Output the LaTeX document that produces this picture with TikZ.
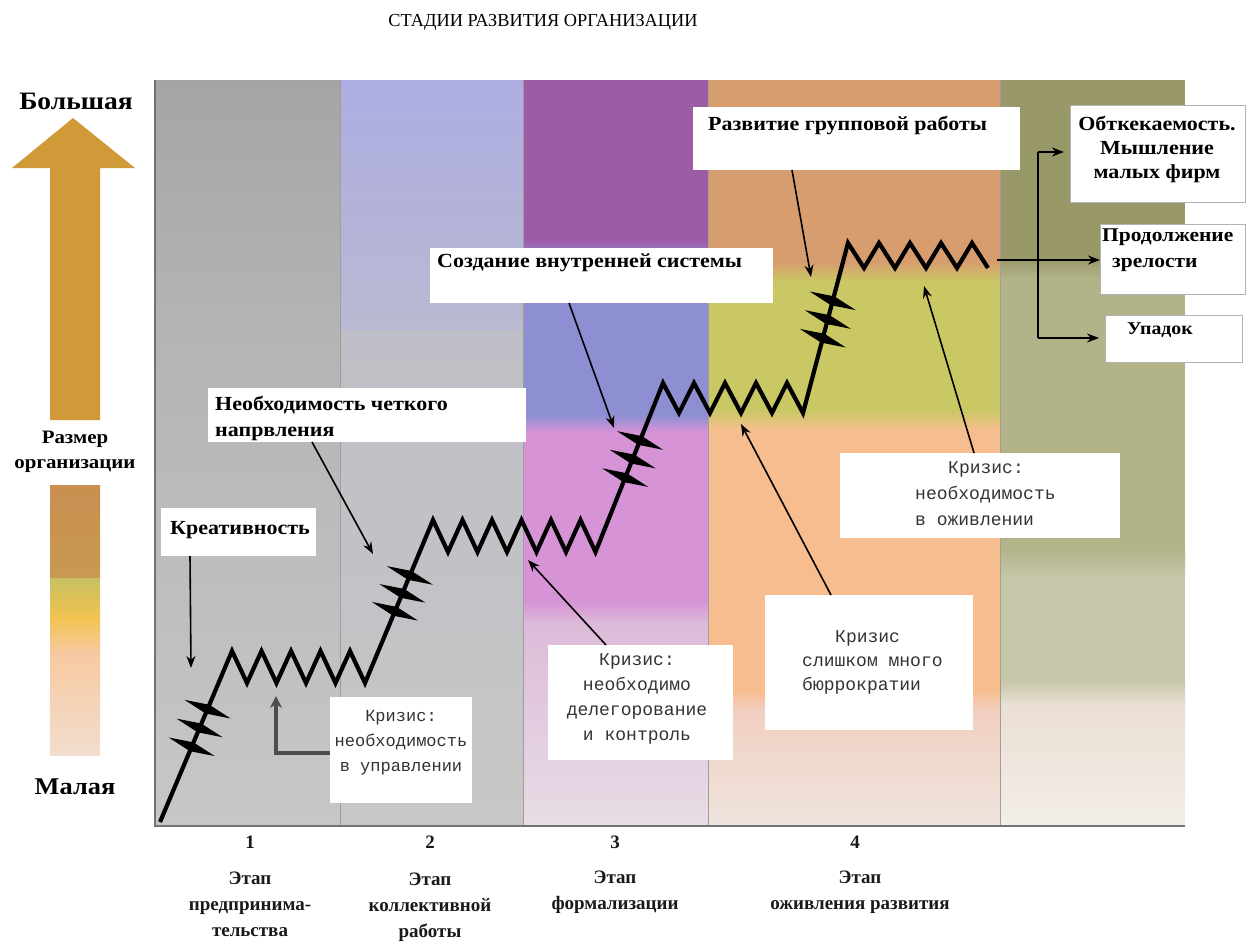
\documentclass[tikz,border=0pt]{standalone}
\usepackage{fontspec}
\setmainfont{Liberation Serif}
\newfontfamily\lbl[FakeStretch=1.1]{Liberation Serif}
\newfontfamily\mono{Liberation Mono}
\usetikzlibrary{arrows.meta,calc}
\definecolor{gA}{HTML}{A5A5A5}
\definecolor{gB}{HTML}{B4B4B4}
\definecolor{gC}{HTML}{C7C7C7}
\definecolor{lavA}{HTML}{ADADE2}
\definecolor{lavB}{HTML}{B9B9D2}
\definecolor{grA}{HTML}{BEBEC6}
\definecolor{purA}{HTML}{9E5CA6}
\definecolor{bvA}{HTML}{8E8ED2}
\definecolor{pkA}{HTML}{D693D6}
\definecolor{pkB}{HTML}{DDBBD9}
\definecolor{pkC}{HTML}{E7DDE5}
\definecolor{orA}{HTML}{D79D6E}
\definecolor{ygA}{HTML}{C9C865}
\definecolor{peA}{HTML}{F7BD8E}
\definecolor{peB}{HTML}{F1CFC0}
\definecolor{peC}{HTML}{EFE4DE}
\definecolor{olA}{HTML}{999868}
\definecolor{olB}{HTML}{B3B38A}
\definecolor{olC}{HTML}{C6C6A8}
\definecolor{olD}{HTML}{EADFD4}
\definecolor{olE}{HTML}{F3EEE8}
\definecolor{goldA}{HTML}{CF9A37}
\definecolor{goldB}{HTML}{C98F50}
\definecolor{grnA}{HTML}{C7C062}
\definecolor{yelA}{HTML}{F2C350}
\definecolor{pchA}{HTML}{F8C9A0}
\definecolor{pchB}{HTML}{F2DDCE}
\definecolor{elbow}{HTML}{4D4D4D}
\tikzset{
  box/.style={fill=white, draw=none, inner sep=0pt, anchor=north west},
  rbox/.style={box, draw=black!30, line width=1pt},
  lab/.style={font=\lbl\bfseries\fontsize{20}{26}\selectfont, inner sep=0pt, text=black},
  blab/.style={font=\bfseries\fontsize{19}{26}\selectfont, inner sep=0pt, align=center, text=black!90},
  crisis/.style={font=\mono\fontsize{18}{25}\selectfont, inner sep=0pt, text=black!80},
  arr/.style={-{Stealth[length=12pt,width=9pt]}, line width=1.6pt},
  plain/.style={line width=1.6pt},
  zig/.style={line width=4.2pt, line join=miter, miter limit=20},
  sep/.style={draw=black!38, line width=1pt},
}
\newcommand\hmark[1]{\fill ($(#1)+(-23,-9.3)$) -- ($(#1)+(1.8,-4.4)$) -- ($(#1)+(23,9.3)$) -- ($(#1)+(-1.8,4.4)$) -- cycle;}
\begin{document}
\begin{tikzpicture}[x=1pt,y=-1pt]
\useasboundingbox (0,0) rectangle (1249,942);
\fill[white] (0,0) rectangle (1249,942);

% ---- column backgrounds
\shade[top color=gA, bottom color=gB] (155,80) rectangle (340,330);
\shade[top color=gB, bottom color=gC] (155,330) rectangle (340,825);
\shade[top color=lavA, bottom color=lavB] (340,80) rectangle (523,330);
\shade[top color=grA, bottom color=gC] (340,330) rectangle (523,825);
\fill[purA] (523,80) rectangle (708,240);
\shade[top color=purA, bottom color=bvA] (523,240) rectangle (708,258);
\fill[bvA] (523,258) rectangle (708,415);
\shade[top color=bvA, bottom color=pkA] (523,415) rectangle (708,432);
\fill[pkA] (523,432) rectangle (708,600);
\shade[top color=pkA, bottom color=pkB] (523,600) rectangle (708,625);
\shade[top color=pkB, bottom color=pkC] (523,625) rectangle (708,825);
\fill[orA] (708,80) rectangle (1000,262);
\shade[top color=orA, bottom color=ygA] (708,262) rectangle (1000,282);
\fill[ygA] (708,282) rectangle (1000,410);
\shade[top color=ygA, bottom color=peA] (708,410) rectangle (1000,430);
\fill[peA] (708,430) rectangle (1000,690);
\shade[top color=peA, bottom color=peB] (708,690) rectangle (1000,710);
\shade[top color=peB, bottom color=peC] (708,710) rectangle (1000,825);
\fill[olA] (1000,80) rectangle (1185,258);
\shade[top color=olA, bottom color=olB] (1000,258) rectangle (1185,278);
\fill[olB] (1000,278) rectangle (1185,550);
\shade[top color=olB, bottom color=olC] (1000,550) rectangle (1185,575);
\fill[olC] (1000,575) rectangle (1185,680);
\shade[top color=olC, bottom color=olD] (1000,680) rectangle (1185,705);
\shade[top color=olD, bottom color=olE] (1000,705) rectangle (1185,825);

% separators and axes
\draw[sep] (340,80) -- (340,825);
\draw[sep] (523,80) -- (523,825);
\draw[sep] (708,80) -- (708,825);
\draw[sep] (1000,80) -- (1000,825);
\draw[draw=black!55, line width=2pt] (155,80) -- (155,826) -- (1185,826);

% ---- left size arrow
\fill[goldA] (50,168) -- (12,168) -- (73,118) -- (135,168) -- (100,168) -- (100,420) -- (50,420) -- cycle;
\shade[top color=goldB, bottom color=goldB!80!grnA] (50,485) rectangle (100,578);
\shade[top color=grnA, bottom color=yelA] (50,578) rectangle (100,618);
\shade[top color=yelA, bottom color=pchA] (50,618) rectangle (100,652);
\shade[top color=pchA, bottom color=pchB] (50,652) rectangle (100,755);
\node[font=\lbl\bfseries\fontsize{25}{26}\selectfont, inner sep=0pt] (big) at (76,101) {Большая};
\node[font=\lbl\bfseries\fontsize{19}{25}\selectfont, inner sep=0pt, align=center] (size) at (75,452) {Размер\\организации};
\node[font=\lbl\bfseries\fontsize{24}{24}\selectfont, inner sep=0pt] (small) at (75,787) {Малая};

% ---- title
\node[font=\fontsize{18.3}{20}\selectfont, inner sep=0pt, text=black] (title) at (543,22) {СТАДИИ РАЗВИТИЯ ОРГАНИЗАЦИИ};

% ---- zigzag growth line
\coordinate (d1a) at (160,822);
\coordinate (d1b) at (232,651);
\coordinate (d2a) at (365,683);
\coordinate (d2b) at (433,520);
\coordinate (d3a) at (595.5,552);
\coordinate (d3b) at (663,383);
\coordinate (d4a) at (803,413);
\coordinate (d4b) at (848,243);
\coordinate (zend) at (988,268);
\draw[zig] (d1a) -- (d1b)
  -- (247,683) -- (261.5,651) -- (276.5,683) -- (291,651) -- (306,683) -- (320.5,651) -- (335.5,683) -- (350,651)
  -- (d2a) -- (d2b)
  -- (448,552) -- (462.5,520) -- (477.5,552) -- (492,520) -- (507,552) -- (521.5,520) -- (536.5,552) -- (551,520) -- (566,552) -- (580.5,520)
  -- (d3a) -- (d3b)
  -- (679,413) -- (694,383) -- (710,413) -- (725,383) -- (741,413) -- (756,383) -- (772,413) -- (787,383)
  -- (d4a) -- (d4b)
  -- (864,268) -- (879,243) -- (895,268) -- (910,243) -- (926,268) -- (941,243) -- (957,268) -- (972,243)
  -- (zend);
\foreach \d in {1,2,3,4}{
  \coordinate (h\d a) at ($(d\d a)!0.44!(d\d b)$);
  \coordinate (h\d b) at ($(d\d a)!0.55!(d\d b)$);
  \coordinate (h\d c) at ($(d\d a)!0.66!(d\d b)$);
  \hmark{h\d a}\hmark{h\d b}\hmark{h\d c}
}

% ---- label boxes
\node[box, minimum width=155pt, minimum height=48pt] (kre) at (161,508) {};
\node[lab, anchor=west] (kret) at (170,530) {Креативность};
\node[box, minimum width=318pt, minimum height=54pt] (neo) at (208,388) {};
\node[lab, anchor=west, align=left] (neot) at (215,418) {Необходимость четкого\\напрвления};
\node[box, minimum width=343pt, minimum height=55pt] (soz) at (430,248) {};
\node[lab, anchor=west] (sozt) at (437,263) {Создание внутренней системы};
\node[box, minimum width=327pt, minimum height=63pt] (grp) at (693,107) {};
\node[lab, anchor=west] (grpt) at (708,125) {Развитие групповой работы};

% crisis boxes
\node[box, minimum width=142pt, minimum height=106pt] (kr1) at (330,697) {};
\node[crisis, align=center, font=\mono\fontsize{17}{25}\selectfont] (kr1t) at (401,743) {Кризис:\\необходимость\\в управлении};
\node[box, minimum width=185pt, minimum height=115pt] (kr2) at (548,645) {};
\node[crisis, align=center] (kr2t) at (637,699) {Кризис:\\необходимо\\делегорование\\и  контроль};
\node[box, minimum width=208pt, minimum height=135pt] (kr3) at (765,595) {};
\node[crisis, align=left, anchor=west, font=\mono\fontsize{18}{24}\selectfont] (kr3t) at (802,662) {\hspace*{33pt}Кризис\\слишком много\\бюррократии};
\node[box, minimum width=280pt, minimum height=85pt] (kr4) at (840,453) {};
\node[crisis, align=left, anchor=west, font=\mono\fontsize{18}{26}\selectfont] (kr4t) at (915,494) {\hspace*{33pt}Кризис:\\необходимость\\в оживлении};

% outcome boxes
\node[rbox, minimum width=175pt, minimum height=97pt] (bA) at (1070,105) {};
\node[lab, align=center, font=\lbl\bfseries\fontsize{20}{24}\selectfont] (bAt) at (1157,149) {Обткекаемость.\\Мышление\\малых фирм};
\node[rbox, minimum width=145pt, minimum height=70pt] (bB) at (1100,224) {};
\node[lab, align=left, anchor=west, font=\lbl\bfseries\fontsize{19.5}{26}\selectfont] (bBt) at (1102,250) {Продолжение\\\hspace*{10pt}зрелости};
\node[rbox, minimum width=137pt, minimum height=47pt] (bC) at (1105,315) {};
\node[lab, font=\lbl\bfseries\fontsize{18}{24}\selectfont] (bCt) at (1160,330) {Упадок};

% ---- stage labels
\node[blab] (n1) at (250,842) {1};
\node[blab] (n2) at (430,842) {2};
\node[blab] (n3) at (615,842) {3};
\node[blab] (n4) at (855,842) {4};
\node[blab] (s1) at (250,904) {Этап\\предпринима-\\тельства};
\node[blab] (s2) at (430,907) {Этап\\коллективной\\работы};
\node[blab] (s3) at (615,892) {Этап\\формализации};
\node[blab] (s4) at (860,892) {Этап\\оживления развития};

% ---- pointer arrows
\coordinate (kreS) at (190,556);
\coordinate (t1) at (191,668);
\draw[arr] (kreS) -- (t1);
\coordinate (neoS) at (312,442);
\coordinate (t2) at (373,554);
\draw[arr] (neoS) -- (t2);
\coordinate (sozS) at (569,303);
\coordinate (t3) at (614,428);
\draw[arr] (sozS) -- (t3);
\coordinate (grpS) at (792,170);
\coordinate (t4) at (811,277);
\draw[arr] (grpS) -- (t4);
\coordinate (kr2N) at (606,645);
\coordinate (t5) at (528,560);
\draw[arr] (kr2N) -- (t5);
\coordinate (kr3N) at (831,595);
\coordinate (t6) at (741,424);
\draw[arr] (kr3N) -- (t6);
\coordinate (kr4N) at (974,453);
\coordinate (t7) at (924,286);
\draw[arr] (kr4N) -- (t7);
\coordinate (kr1W) at (330,753);
\coordinate (elb) at (276,753);
\coordinate (t8) at (276,696);
\draw[draw=elbow, line width=4.5pt, -{Stealth[length=12pt,width=12pt,fill=black]}] (kr1W) -- (elb) -- (t8);

% ---- outcome arrows
\coordinate (sp) at (997,260);
\coordinate (jn) at (1038,260);
\coordinate (jt) at (1038,152);
\coordinate (jb) at (1038,338);
\draw[plain] (jt) -- (jb);
\draw[arr] (sp) -- (sp -| bB.west);
\draw[arr] (jt) -- ([xshift=-6pt]bA.west |- jt);
\draw[arr] (jb) -- ([xshift=-6pt]bC.west |- jb);
\end{tikzpicture}
\end{document}
